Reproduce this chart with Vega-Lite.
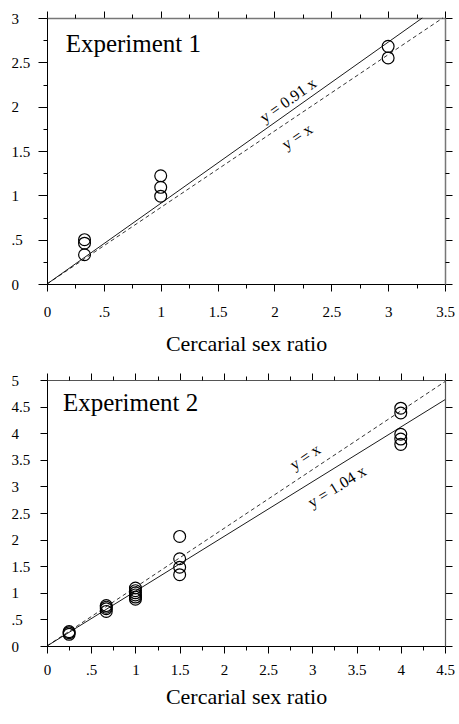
{
  "$schema": "https://vega.github.io/schema/vega-lite/v6.json",
  "background": "white",
  "padding": {"left": 11, "top": 10, "right": 0, "bottom": 0},
  "spacing": 18,
  "config": {
    "view": {"stroke": null},
    "font": "Liberation Serif, Times New Roman, serif",
    "axis": {
      "grid": false,
      "ticks": true,
      "tickWidth": 1,
      "labelFont": "Liberation Serif, Times New Roman, serif",
      "labelFontSize": 15,
      "labelColor": "black",
      "tickColor": "black",
      "domainColor": "black",
      "labelFlush": false,
      "labelOverlap": false,
      "titleFont": "Liberation Serif, Times New Roman, serif",
      "titleFontSize": 22,
      "titleFontWeight": "normal",
      "titleColor": "black"
    }
  },
  "datasets": {
    "e1pts": [
      {"x": 0.33, "y": 0.5}, {"x": 0.33, "y": 0.46}, {"x": 0.33, "y": 0.33},
      {"x": 1.0, "y": 0.99}, {"x": 1.0, "y": 1.09}, {"x": 1.0, "y": 1.22},
      {"x": 3.0, "y": 2.55}, {"x": 3.0, "y": 2.68}
    ],
    "e1lines": [
      {"line": "y = 0.91 x", "x": 0, "y": 0}, {"line": "y = 0.91 x", "x": 3.3, "y": 3.0},
      {"line": "y = x", "x": 0, "y": 0}, {"line": "y = x", "x": 3.48, "y": 3.0}
    ],
    "e1text": [
      {"label": "y = 0.91 x", "x": 2.12, "y": 2.07},
      {"label": "y = x", "x": 2.2, "y": 1.66},
      {"label": "Experiment 1", "x": 0.164, "y": 2.62}
    ],
    "e2pts": [
      {"x": 0.25, "y": 0.22}, {"x": 0.25, "y": 0.25}, {"x": 0.25, "y": 0.27},
      {"x": 0.67, "y": 0.65}, {"x": 0.67, "y": 0.7}, {"x": 0.67, "y": 0.73}, {"x": 0.67, "y": 0.76},
      {"x": 1.0, "y": 0.88}, {"x": 1.0, "y": 0.92}, {"x": 1.0, "y": 0.96}, {"x": 1.0, "y": 1.0}, {"x": 1.0, "y": 1.04}, {"x": 1.0, "y": 1.09},
      {"x": 1.5, "y": 1.34}, {"x": 1.5, "y": 1.48}, {"x": 1.5, "y": 1.64}, {"x": 1.5, "y": 2.06},
      {"x": 4.0, "y": 3.79}, {"x": 4.0, "y": 3.89}, {"x": 4.0, "y": 3.98}, {"x": 4.0, "y": 4.38}, {"x": 4.0, "y": 4.47}
    ],
    "e2lines": [
      {"line": "y = 1.04 x", "x": 0, "y": 0}, {"line": "y = 1.04 x", "x": 4.5, "y": 4.63},
      {"line": "y = x", "x": 0, "y": 0}, {"line": "y = x", "x": 4.5, "y": 4.97}
    ],
    "e2text": [
      {"label": "y = x", "x": 2.92, "y": 3.55},
      {"label": "y = 1.04 x", "x": 3.28, "y": 2.99},
      {"label": "Experiment 2", "x": 0.18, "y": 4.41}
    ]
  },
  "vconcat": [
    {
      "width": 398,
      "height": 266,
      "resolve": {"axis": {"x": "independent", "y": "independent"}},
      "layer": [
        {
          "data": {"name": "e1pts"},
          "mark": {"type": "point", "shape": "circle", "filled": false, "color": "black", "strokeWidth": 1.2, "size": 140, "opacity": 1},
          "encoding": {
            "x": {"field": "x", "type": "quantitative", "scale": {"domain": [0, 3.5], "nice": false, "zero": false},
              "axis": {"orient": "bottom", "title": "Cercarial sex ratio", "titlePadding": 14,
                "values": [0, 0.5, 1, 1.5, 2, 2.5, 3, 3.5],
                "tickSize": 7, "labelPadding": 13,
                "labelExpr": "datum.value == 0.5 ? '.5' : format(datum.value, '~g')"}},
            "y": {"field": "y", "type": "quantitative", "scale": {"domain": [0, 3], "nice": false, "zero": false},
              "axis": {"orient": "left", "title": null,
                "values": [0, 0.5, 1, 1.5, 2, 2.5, 3],
                "tickSize": 9, "labelAlign": "left", "labelPadding": 27,
                "labelExpr": "datum.value == 0.5 ? '.5' : format(datum.value, '~g')"}}
          }
        },
        {
          "data": {"name": "e1lines"},
          "transform": [{"filter": "datum.line == 'y = 0.91 x'"}],
          "mark": {"type": "line", "color": "black", "strokeWidth": 0.9},
          "encoding": {
            "x": {"field": "x", "type": "quantitative", "scale": {"domain": [0, 3.5], "nice": false, "zero": false},
              "axis": {"orient": "top", "title": null, "labels": false, "domainColor": "#777", "domainWidth": 1.5,
                "values": [0, 0.5, 1, 1.5, 2, 2.5, 3, 3.5], "tickSize": 7}},
            "y": {"field": "y", "type": "quantitative", "scale": {"domain": [0, 3], "nice": false, "zero": false},
              "axis": {"orient": "right", "title": null, "labels": false, "domainColor": "#777", "domainWidth": 1.5,
                "values": [0, 0.5, 1, 1.5, 2, 2.5, 3], "tickSize": 7}}
          }
        },
        {
          "data": {"name": "e1lines"},
          "transform": [{"filter": "datum.line == 'y = x'"}],
          "mark": {"type": "line", "color": "black", "strokeWidth": 0.8, "strokeDash": [4, 3]},
          "encoding": {
            "x": {"field": "x", "type": "quantitative", "scale": {"domain": [0, 3.5], "nice": false, "zero": false},
              "axis": {"orient": "bottom", "title": null, "labels": false, "domain": false,
                "values": [0.25, 0.75, 1.25, 1.75, 2.25, 2.75, 3.25], "tickSize": 4}},
            "y": {"field": "y", "type": "quantitative", "scale": {"domain": [0, 3], "nice": false, "zero": false},
              "axis": {"orient": "left", "title": null, "labels": false, "domain": false,
                "values": [0.25, 0.75, 1.25, 1.75, 2.25, 2.75], "tickSize": 4}}
          }
        },
        {
          "data": {"name": "e1text"},
          "transform": [{"filter": "datum.label == 'y = 0.91 x'"}],
          "mark": {"type": "text", "font": "Liberation Serif, Times New Roman, serif", "fontSize": 16, "angle": 324.6, "color": "black"},
          "encoding": {
            "x": {"field": "x", "type": "quantitative", "scale": {"domain": [0, 3.5], "nice": false, "zero": false},
              "axis": {"orient": "top", "title": null, "labels": false, "domain": false,
                "values": [0.25, 0.75, 1.25, 1.75, 2.25, 2.75, 3.25], "tickSize": 4}},
            "y": {"field": "y", "type": "quantitative", "scale": {"domain": [0, 3], "nice": false, "zero": false},
              "axis": {"orient": "right", "title": null, "labels": false, "domain": false,
                "values": [0.25, 0.75, 1.25, 1.75, 2.25, 2.75], "tickSize": 4}},
            "text": {"field": "label"}
          }
        },
        {
          "data": {"name": "e1text"},
          "transform": [{"filter": "datum.label == 'y = x'"}],
          "mark": {"type": "text", "font": "Liberation Serif, Times New Roman, serif", "fontSize": 16, "angle": 326, "color": "black"},
          "encoding": {
            "x": {"field": "x", "type": "quantitative", "axis": null},
            "y": {"field": "y", "type": "quantitative", "axis": null},
            "text": {"field": "label"}
          }
        },
        {
          "data": {"name": "e1text"},
          "transform": [{"filter": "datum.label == 'Experiment 1'"}],
          "mark": {"type": "text", "font": "Liberation Serif, Times New Roman, serif", "fontSize": 25, "align": "left", "baseline": "alphabetic", "color": "black"},
          "encoding": {
            "x": {"field": "x", "type": "quantitative", "axis": null},
            "y": {"field": "y", "type": "quantitative", "axis": null},
            "text": {"field": "label"}
          }
        }
      ]
    },
    {
      "width": 398,
      "height": 266,
      "resolve": {"axis": {"x": "independent", "y": "independent"}},
      "layer": [
        {
          "data": {"name": "e2pts"},
          "mark": {"type": "point", "shape": "circle", "filled": false, "color": "black", "strokeWidth": 1.2, "size": 140, "opacity": 1},
          "encoding": {
            "x": {"field": "x", "type": "quantitative", "scale": {"domain": [0, 4.5], "nice": false, "zero": false},
              "axis": {"orient": "bottom", "title": "Cercarial sex ratio", "titlePadding": 9,
                "values": [0, 0.5, 1, 1.5, 2, 2.5, 3, 3.5, 4, 4.5],
                "tickSize": 7, "labelPadding": 9,
                "labelExpr": "datum.value == 0.5 ? '.5' : format(datum.value, '~g')"}},
            "y": {"field": "y", "type": "quantitative", "scale": {"domain": [0, 5], "nice": false, "zero": false},
              "axis": {"orient": "left", "title": null,
                "values": [0, 0.5, 1, 1.5, 2, 2.5, 3, 3.5, 4, 4.5, 5],
                "tickSize": 7, "labelAlign": "left", "labelPadding": 29,
                "labelExpr": "datum.value == 0.5 ? '.5' : format(datum.value, '~g')"}}
          }
        },
        {
          "data": {"name": "e2lines"},
          "transform": [{"filter": "datum.line == 'y = 1.04 x'"}],
          "mark": {"type": "line", "color": "black", "strokeWidth": 0.9},
          "encoding": {
            "x": {"field": "x", "type": "quantitative", "scale": {"domain": [0, 4.5], "nice": false, "zero": false},
              "axis": {"orient": "top", "title": null, "labels": false, "domainColor": "#555", "domainWidth": 1.2,
                "values": [0, 0.5, 1, 1.5, 2, 2.5, 3, 3.5, 4, 4.5], "tickSize": 7}},
            "y": {"field": "y", "type": "quantitative", "scale": {"domain": [0, 5], "nice": false, "zero": false},
              "axis": {"orient": "right", "title": null, "labels": false, "domainColor": "#555", "domainWidth": 1.2,
                "values": [0, 0.5, 1, 1.5, 2, 2.5, 3, 3.5, 4, 4.5, 5], "tickSize": 7}}
          }
        },
        {
          "data": {"name": "e2lines"},
          "transform": [{"filter": "datum.line == 'y = x'"}],
          "mark": {"type": "line", "color": "black", "strokeWidth": 0.8, "strokeDash": [4, 3]},
          "encoding": {
            "x": {"field": "x", "type": "quantitative", "scale": {"domain": [0, 4.5], "nice": false, "zero": false},
              "axis": {"orient": "bottom", "title": null, "labels": false, "domain": false,
                "values": [0.25, 0.75, 1.25, 1.75, 2.25, 2.75, 3.25, 3.75, 4.25], "tickSize": 4}},
            "y": {"field": "y", "type": "quantitative", "axis": null}
          }
        },
        {
          "data": {"name": "e2text"},
          "transform": [{"filter": "datum.label == 'y = x'"}],
          "mark": {"type": "text", "font": "Liberation Serif, Times New Roman, serif", "fontSize": 16, "angle": 326.4, "color": "black"},
          "encoding": {
            "x": {"field": "x", "type": "quantitative", "scale": {"domain": [0, 4.5], "nice": false, "zero": false},
              "axis": {"orient": "top", "title": null, "labels": false, "domain": false,
                "values": [0.25, 0.75, 1.25, 1.75, 2.25, 2.75, 3.25, 3.75, 4.25], "tickSize": 4}},
            "y": {"field": "y", "type": "quantitative", "axis": null},
            "text": {"field": "label"}
          }
        },
        {
          "data": {"name": "e2text"},
          "transform": [{"filter": "datum.label == 'y = 1.04 x'"}],
          "mark": {"type": "text", "font": "Liberation Serif, Times New Roman, serif", "fontSize": 16, "angle": 328.3, "color": "black"},
          "encoding": {
            "x": {"field": "x", "type": "quantitative", "axis": null},
            "y": {"field": "y", "type": "quantitative", "axis": null},
            "text": {"field": "label"}
          }
        },
        {
          "data": {"name": "e2text"},
          "transform": [{"filter": "datum.label == 'Experiment 2'"}],
          "mark": {"type": "text", "font": "Liberation Serif, Times New Roman, serif", "fontSize": 25, "align": "left", "baseline": "alphabetic", "color": "black"},
          "encoding": {
            "x": {"field": "x", "type": "quantitative", "axis": null},
            "y": {"field": "y", "type": "quantitative", "axis": null},
            "text": {"field": "label"}
          }
        }
      ]
    }
  ]
}
